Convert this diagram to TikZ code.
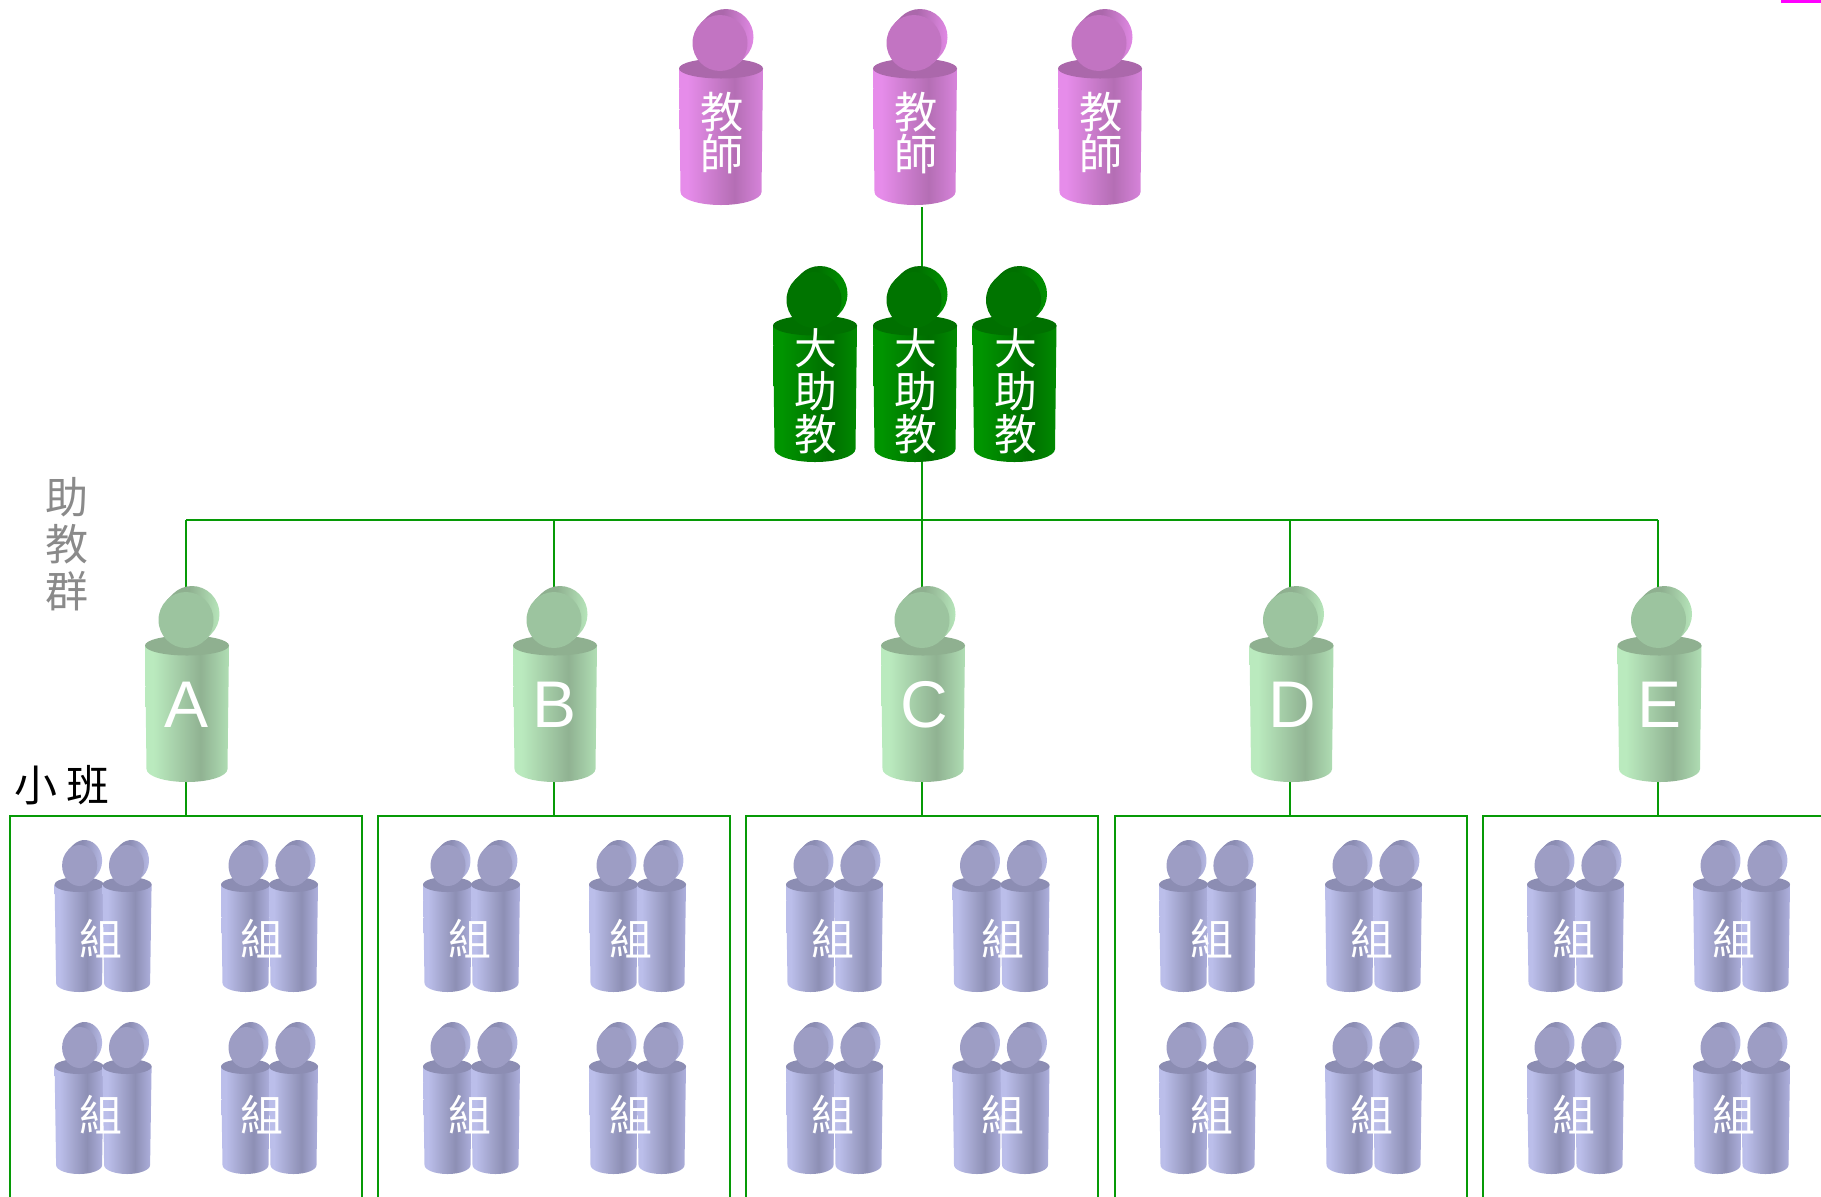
\documentclass[tikz,border=0pt]{standalone}
\usepackage{fontspec}
\setmainfont{Liberation Sans}
\newfontfamily\cjk{Noto Sans CJK TC}
\definecolor{Tl}{HTML}{E68CEA}\definecolor{Td}{HTML}{B46EB4}\definecolor{Tm}{HTML}{D884DC}
\definecolor{Tr}{HTML}{AB68AB}\definecolor{Tf}{HTML}{C274C2}
\definecolor{Gl}{HTML}{009400}\definecolor{Gd}{HTML}{006E00}\definecolor{Gm}{HTML}{008A00}
\definecolor{Gr}{HTML}{007000}\definecolor{Gf}{HTML}{007400}
\definecolor{Al}{HTML}{BAEABE}\definecolor{Ad}{HTML}{90B292}\definecolor{Am}{HTML}{B0DEB4}
\definecolor{Ar}{HTML}{8FB090}\definecolor{Af}{HTML}{9CC49F}
\definecolor{Pl}{HTML}{BBBEEA}\definecolor{Pd}{HTML}{8D8FB4}\definecolor{Pm}{HTML}{AEB0DE}
\definecolor{Pr}{HTML}{8C8DB3}\definecolor{Pf}{HTML}{9D9DC4}
\definecolor{linkgreen}{HTML}{069A06}
\definecolor{barpink}{HTML}{FF00FF}
\pgfdeclarehorizontalshading{bodyT}{100bp}{color(0bp)=(Tl);color(30bp)=(Tl);color(58bp)=(Td);color(75bp)=(Tm);color(100bp)=(Tm)}
\pgfdeclarehorizontalshading{bodyG}{100bp}{color(0bp)=(Gl);color(30bp)=(Gl);color(58bp)=(Gd);color(75bp)=(Gm);color(100bp)=(Gm)}
\pgfdeclarehorizontalshading{bodyA}{100bp}{color(0bp)=(Al);color(30bp)=(Al);color(58bp)=(Ad);color(75bp)=(Am);color(100bp)=(Am)}
\pgfdeclarehorizontalshading{bodyP}{100bp}{color(0bp)=(Pl);color(30bp)=(Pl);color(58bp)=(Pd);color(75bp)=(Pm);color(100bp)=(Pm)}
\pgfdeclarehorizontalshading{headT}{100bp}{color(0bp)=(Tr);color(45bp)=(Tr);color(75bp)=(Tl);color(100bp)=(Tl)}
\pgfdeclarehorizontalshading{headG}{100bp}{color(0bp)=(Gr);color(45bp)=(Gr);color(75bp)=(Gl);color(100bp)=(Gl)}
\pgfdeclarehorizontalshading{headA}{100bp}{color(0bp)=(Ar);color(45bp)=(Ar);color(75bp)=(Al);color(100bp)=(Al)}
\pgfdeclarehorizontalshading{headP}{100bp}{color(0bp)=(Pr);color(45bp)=(Pr);color(75bp)=(Pl);color(100bp)=(Pl)}
\newcommand{\personfig}[2]{%
  \pgfkeys{/person/.cd,#2}%
  \edef\pcx{#1}%
  \pgfmathsetmacro{\pfoot}{\ptop+\pheight-\pfry}%
  \pgfmathsetmacro{\prim}{\ptop+\prry}%
  \pgfmathsetmacro{\pbrx}{\prx-1.5}%
  \pgfmathsetmacro{\phx}{\pcx-1+\pdx}%
  \pgfmathsetmacro{\phy}{\ptop-\phdy}%
  \pgfmathsetmacro{\phbx}{\phx+\phd}%
  \pgfmathsetmacro{\phby}{\phy-\phd}%
  \pgfmathsetmacro{\pang}{atan2(\phry,\phrx)}%
  \pgfmathsetmacro{\pxa}{\phrx*cos(\pang)}%
  \pgfmathsetmacro{\pya}{\phry*sin(\pang)}%
  \path[shade,shading=body\ppal] (\pcx-\prx,\prim) -- (\pcx-\pbrx,\pfoot)
     arc[start angle=180,end angle=0,x radius=\pbrx,y radius=\pfry]
     -- (\pcx+\prx,\prim) -- cycle;
  \fill[color=\ppal r] (\pcx,\prim) ellipse[x radius=\prx,y radius=\prry];
  \path[shade,shading=head\ppal] (\phx+\pxa,\phy+\pya) -- (\phbx+\pxa,\phby+\pya)
     arc[start angle=\pang,end angle=\pang-180,x radius=\phrx,y radius=\phry]
     -- (\phx-\pxa,\phy-\pya) -- cycle;
  \fill[color=\ppal f] (\phx,\phy) ellipse[x radius=\phrx,y radius=\phry];
}
\pgfkeys{/person/.cd,
  top/.store in=\ptop, rx/.store in=\prx, height/.store in=\pheight,
  rimry/.store in=\prry, footry/.store in=\pfry, hdy/.store in=\phdy,
  hrx/.store in=\phrx, hry/.store in=\phry, hd/.store in=\phd, pal/.store in=\ppal, dx/.store in=\pdx,
  big/.style={rx=42,height=146.5,rimry=10,footry=13,hdy=15.5,hrx=27.5,hry=28,hd=6,dx=0},
  small/.style={rx=24.5,height=115,rimry=7.5,footry=9,hdy=11.5,hrx=17.5,hry=20.5,hd=5,dx=1.5}}
\tikzset{
  link/.style={draw=linkgreen,line width=1pt},
  whitecjk/.style={text=white,inner sep=0pt,font=\cjk\fontsize{21.6}{21}\selectfont,align=center},
  whitecjkb/.style={text=white,inner sep=0pt,font=\cjk\fontsize{21.4}{21.6}\selectfont,align=center},
  grouplabel/.style={text=white,inner sep=0pt,font=\cjk\fontsize{21.5}{21.5}\selectfont},
  letterlabel/.style={text=white,inner sep=0pt,font=\fontsize{33}{33}\selectfont},
  sidegray/.style={text=black!46,inner sep=0pt,font=\cjk\fontsize{21.5}{23.6}\selectfont,align=center},
  sideblack/.style={text=black,inner sep=0pt,font=\cjk\fontsize{21.5}{21.5}\selectfont}
}
\begin{document}
\begin{tikzpicture}[x=0.5pt,y=-0.5pt]
\useasboundingbox (0,0) rectangle (1821,1196);
\clip (0,0) rectangle (1821,1196);
\fill[color=barpink] (1781,0) rectangle (1821,3);
% connector end points
\coordinate (teacherfoot) at (922,207);
\coordinate (bighead) at (922,268);
\coordinate (bigfoot) at (922,462);
\coordinate (hub) at (922,520);
\foreach \n/\x in {a/186,b/554,c/922,d/1290,e/1658}{
  \coordinate (\n-rail) at (\x,520);
  \coordinate (\n-head) at (\x,590);
  \coordinate (\n-foot) at (\x,780);
  \coordinate (\n-box) at (\x,816);
}
\draw[link] (teacherfoot) -- (bighead);
\draw[link] (bigfoot) -- (hub);
\draw[link] (a-rail) -- (e-rail);
\foreach \n in {a,b,c,d,e}{
  \draw[link] (\n-rail) -- (\n-head);
  \draw[link] (\n-foot) -- (\n-box);
}
\foreach \xl in {9.5,378,746,1114.5,1483}{
  \draw[link] (\xl,1200) -- (\xl,816) -- ++(352,0) -- ++(0,384);
}
% teachers
\foreach \x in {721,915,1100}{\personfig{\x}{big,top=58.5,pal=T}}
\node[whitecjk] (t1) at (722,133) {教\\師};
\node[whitecjk] (t2) at (916,133) {教\\師};
\node[whitecjk] (t3) at (1101,133) {教\\師};
% head assistants
\foreach \x in {815,915,1014.5}{\personfig{\x}{big,top=315.5,pal=G}}
\node[whitecjkb] (g1) at (816,391.5) {大\\助\\教};
\node[whitecjkb] (g2) at (916,391.5) {大\\助\\教};
\node[whitecjkb] (g3) at (1015.5,391.5) {大\\助\\教};
% assistants
\foreach \x in {187,555,923,1291.5,1659.5}{\personfig{\x}{big,top=635.5,pal=A}}
\node[letterlabel] (la) at (186.5,705) {A};
\node[letterlabel] (lb) at (555,705) {B};
\node[letterlabel] (lc) at (924,705) {C};
\node[letterlabel] (ld) at (1292,705) {D};
\node[letterlabel] (le) at (1659,705) {E};
% groups
\foreach \xl/\xt [count=\k] in {54.6/101,221/262,423/470,589/630.5,786/832.5,952.5/1003,1159/1211.5,1325/1371.5,1527/1573.5,1693/1734}{
  \foreach \ty/\ly [count=\r] in {877/938.5,1059/1114.5}{
    \pgfmathsetmacro{\ca}{\xl+24.5}
    \pgfmathsetmacro{\cb}{\xl+72.5}
    \personfig{\ca}{small,top=\ty,pal=P}
    \personfig{\cb}{small,top=\ty,pal=P,dx=0.4}
    \node[grouplabel] (grp-\k-\r) at (\xt,\ly) {組};
  }
}
\node[sidegray] (side) at (67,544) {助\\教\\群};
\node[sideblack,anchor=west] (cls) at (14,785) {小 班};
\end{tikzpicture}
\end{document}
